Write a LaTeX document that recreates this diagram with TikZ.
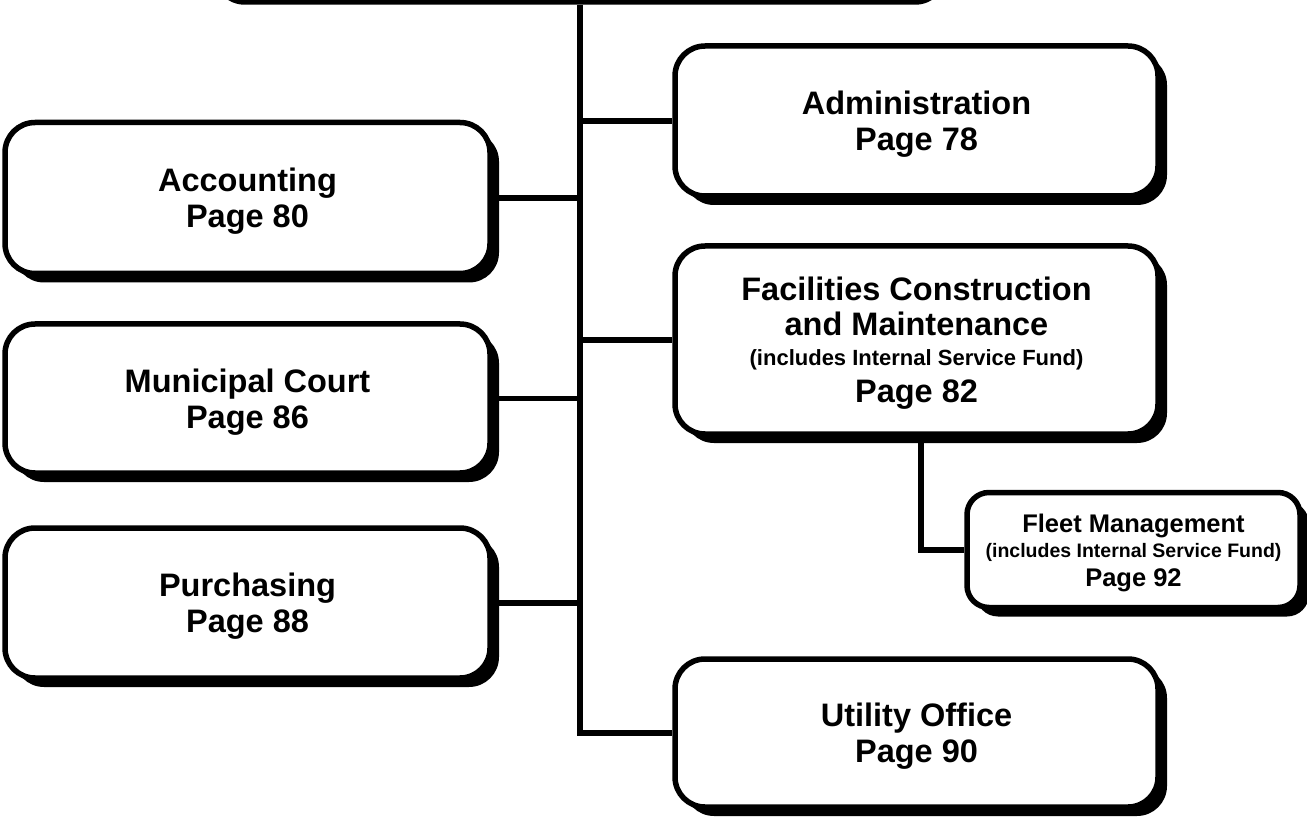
\documentclass[tikz,border=0pt]{standalone}
\usepackage{fontspec}
\setmainfont{Liberation Sans}
\usetikzlibrary{shadows}
\begin{document}
\begin{tikzpicture}[x=1pt,y=-1pt,
  plain/.style={draw, line width=5.5pt, fill=white, rounded corners=30pt, inner sep=0pt,
    align=center, text depth=0pt, font=\bfseries\fontsize{32.5}{36}\selectfont},
  box/.style={plain, drop shadow={shadow xshift=9pt, shadow yshift=-9pt, opacity=1, fill=black}},
  link/.style={line width=5.5pt}]
\useasboundingbox (0,0) rectangle (1307,818);

\node[plain, minimum width=730pt, minimum height=104pt] (top) at (580,-50) {};
\node[box, minimum width=485pt, minimum height=151pt] (acc) at (247.5,198) {Accounting\\Page 80};
\node[box, minimum width=485pt, minimum height=149pt] (mun) at (247.5,398.5) {Municipal Court\\Page 86};
\node[box, minimum width=485pt, minimum height=150pt] (pur) at (247.5,603) {Purchasing\\Page 88};
\node[box, minimum width=483pt, minimum height=150pt] (adm) at (916.5,121) {Administration\\Page 78};
\node[box, minimum width=483pt, minimum height=188pt] (fcm) at (916.5,340)
  {Facilities Construction\\[-1pt]and Maintenance\\[-6pt]{\fontsize{22}{26}\selectfont (includes Internal Service Fund)}\\[1pt]Page 82};
\node[box, minimum width=333pt, minimum height=115pt, rounded corners=22pt,
  font=\bfseries\fontsize{25.5}{27}\selectfont] (fleet) at (1133.5,550)
  {Fleet Management\\[-2pt]{\fontsize{19.5}{24}\selectfont (includes Internal Service Fund)}\\[2pt]Page 92};
\node[box, minimum width=483pt, minimum height=148pt] (util) at (916.5,733) {Utility Office\\Page 90};

\draw[link] (top.south) -- (top.south |- util.west) -- (util.west);
\draw[link] (top.south |- adm.west) -- (adm.west);
\draw[link] (top.south |- fcm.west) -- (fcm.west);
\draw[link] (acc.east) -- (acc.east -| top.south);
\draw[link] (mun.east) -- (mun.east -| top.south);
\draw[link] (pur.east) -- (pur.east -| top.south);
\draw[link] ([xshift=4.5pt]fcm.south) |- (fleet.west);
\end{tikzpicture}
\end{document}
